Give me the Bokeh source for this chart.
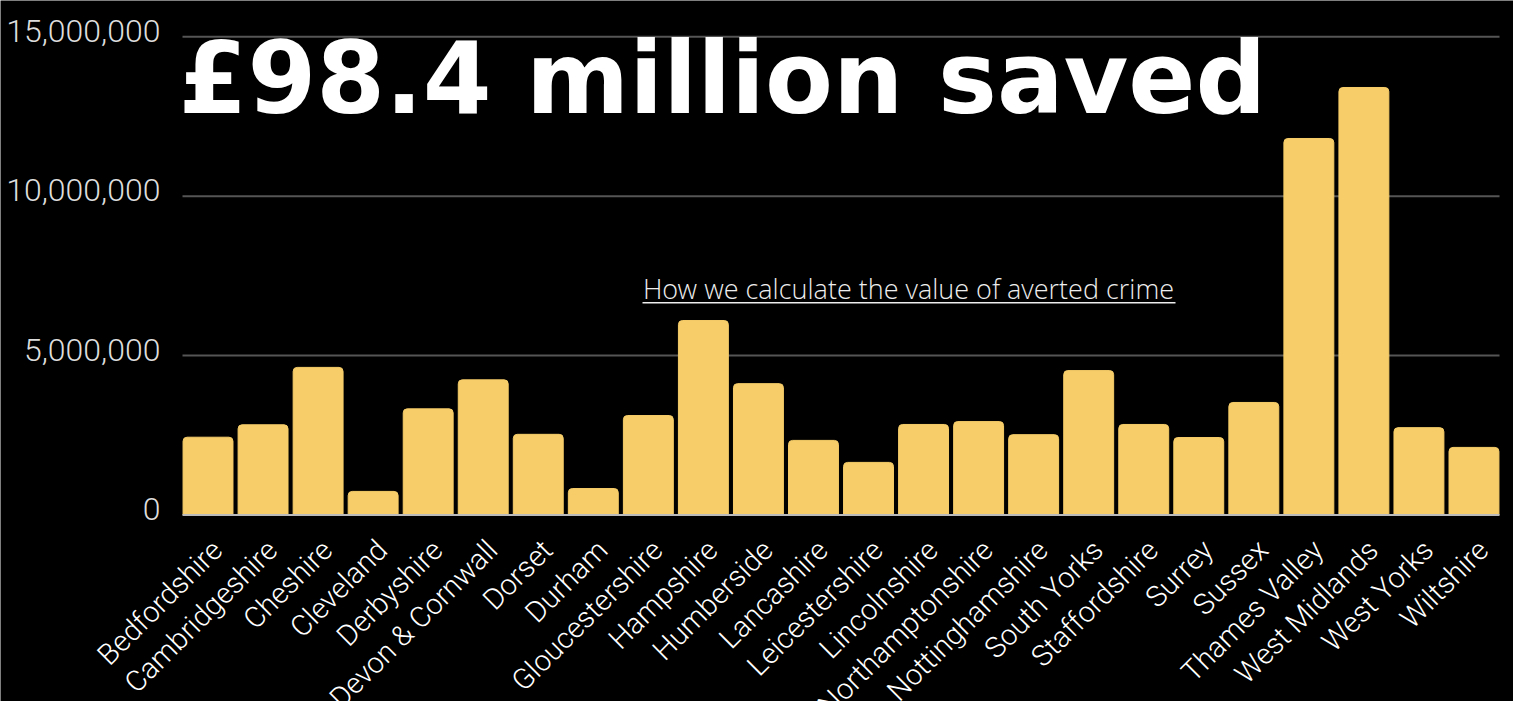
import math
from bokeh.plotting import figure
from bokeh.models import Label, LabelSet, BoxAnnotation, Range1d, ColumnDataSource
from bokeh.core.properties import value
from bokeh.embed import file_html
from bokeh.resources import INLINE

# ---- data ----
forces = ["Bedfordshire", "Cambridgeshire", "Cheshire", "Cleveland", "Derbyshire",
          "Devon & Cornwall", "Dorset", "Durham", "Gloucestershire", "Hampshire",
          "Humberside", "Lancashire", "Leicestershire", "Lincolnshire",
          "Northamptonshire", "Nottinghamshire", "South Yorks", "Staffordshire",
          "Surrey", "Sussex", "Thames Valley", "West Midlands", "West Yorks", "Wiltshire"]
saved = [2440000, 2830000, 4630000, 740000, 3330000,
         4240000, 2530000, 830000, 3120000, 6100000,
         4120000, 2340000, 1650000, 2840000,
         2930000, 2520000, 4530000, 2840000,
         2430000, 3530000, 11810000, 13410000, 2740000, 2120000]
y_ticks = [0, 5000000, 10000000, 15000000]
y_tick_labels = ["0", "5,000,000", "10,000,000", "15,000,000"]
headline = "£98.4 million saved"
link_text = "How we calculate the value of averted crime"

# ---- layout (pixels) ----
W, H = 1513, 701
PLOT_L, PLOT_R = 180, 1501     # screen x span of the category band
ZERO_PX = 514.5                # screen y of the value 0
PX_PER_VAL = 159.4 / 5e6       # pixels per unit of value
PITCH = (PLOT_R - PLOT_L) / len(forces)

def xd(px):
    return (px - PLOT_L) / PITCH

def yd(py):
    return (ZERO_PX - py) / PX_PER_VAL

BAR = "#F6CD69"
GRID = "#555555"

# category slots: one unit per force, centred at i + 0.5
slot = [i + 0.5 for i in range(len(forces))]
source = ColumnDataSource(dict(slot=slot, force=forces, saved=saved,
                               base=[0] * len(forces)))

p = figure(x_range=Range1d(xd(0), xd(W)), y_range=Range1d(yd(H), yd(0)),
           width=W, height=H, output_backend="svg", toolbar_location=None,
           background_fill_color="black", border_fill_color="black",
           outline_line_color=None, min_border=0)
p.axis.visible = False
p.grid.visible = False

# value gridlines and baseline
p.segment(x0=xd(182), x1=xd(1499), y0=y_ticks[1:], y1=y_ticks[1:],
          line_color=GRID, line_width=2)
p.vbar(x="slot", top="saved", bottom="base", width=0.907, source=source,
       fill_color=BAR, line_color=BAR, border_radius=(4, 4, 0, 0))
p.segment(x0=xd(182), x1=xd(1499), y0=[0], y1=[0], line_color="#bbbbbb", line_width=2)

# value tick labels
for t, s in zip(y_ticks, y_tick_labels):
    p.add_layout(Label(x=xd(160), y=t, text=s, text_align="right",
                       text_baseline="middle", y_offset=6,
                       text_font="Roboto Light", text_font_size="32px",
                       text_color="#dddddd"))

# category labels, rotated, below the baseline
p.add_layout(LabelSet(x="slot", y="base", text="force", source=source,
                      angle=math.pi / 4, text_align="right", text_baseline="top",
                      x_offset=-3, y_offset=-18,
                      text_font=value("Roboto Light"), text_font_size=value("29px"),
                      text_color="#ffffff"))

p.add_layout(Label(x=xd(178), y=yd(78), text=headline, text_font="DejaVu Sans",
                   text_font_style="bold", text_font_size="99px", text_color="white",
                   text_baseline="alphabetic", text_align="left"))

p.add_layout(Label(x=xd(908), y=yd(288), text=link_text, text_font="Open Sans Light",
                   text_font_size="27px", text_color="#eeeeee",
                   text_baseline="alphabetic", text_align="center"))
p.add_layout(BoxAnnotation(left=xd(642), right=xd(1175), bottom=yd(303), top=yd(301.5),
                           fill_color="#eeeeee", fill_alpha=1.0, line_color=None))

open("out.html", "w").write(file_html(p, INLINE))
